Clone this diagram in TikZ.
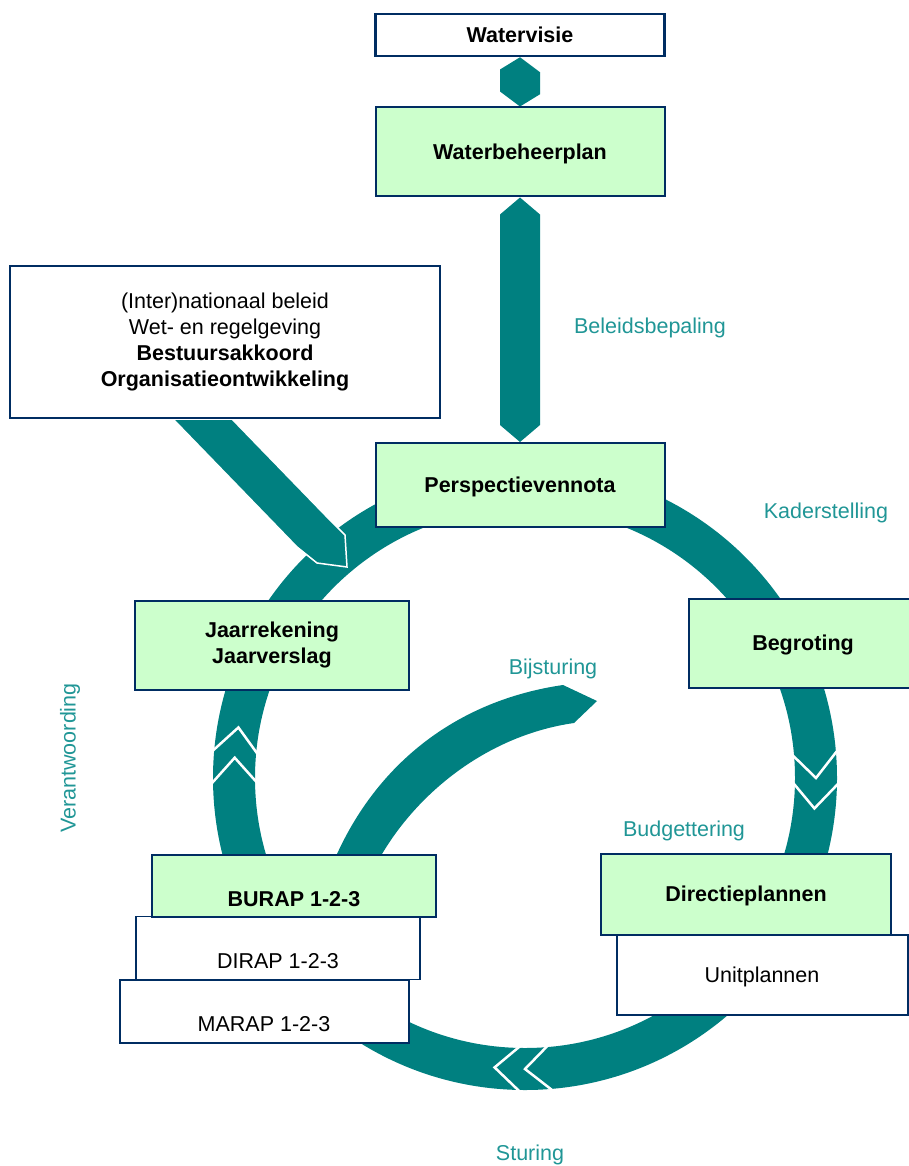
\documentclass[tikz,border=0pt]{standalone}
\usepackage{fontspec}
\setmainfont{Liberation Sans}
\usetikzlibrary{calc,backgrounds}
\definecolor{bandteal}{RGB}{0,128,128}
\definecolor{labelteal}{RGB}{32,150,150}
\definecolor{boxnavy}{RGB}{0,45,98}
\definecolor{boxgreen}{RGB}{204,255,204}
\begin{document}
\begin{tikzpicture}[x=1pt,y=-1pt]
	\tikzset{box/.style=
        {draw=boxnavy, line width=2pt, fill=white, align=center, inner sep=0pt, text depth=0pt, font=\fontsize{21.5}{26}\selectfont},
      greenbox/.style={box, fill=boxgreen, font=\fontsize{21.5}{26}\selectfont\bfseries},
      lowtext/.style={text height=45pt, text depth=4pt},
      steplabel/.style={text=labelteal, inner sep=0pt, font=\fontsize{21.5}{26}\selectfont},
      band/.style={fill=bandteal},
      cut/.style={draw=white, line width=2.5pt}
     }
	\useasboundingbox (0,0) rectangle (908,1166);
	% boxes
	\node (wvisie) at (520,35) [box, line width=2.5pt, minimum width=289pt, minimum height=42pt, font=\fontsize{21.5}{26}\selectfont\bfseries] {Watervisie};
	\node (wbplan) at (520,152) [greenbox, minimum width=289pt, minimum height=89pt] {Waterbeheerplan};
	\node (pnota) at (520,485) [greenbox, minimum width=289pt, minimum height=84pt] {Perspectievennota};
	\node (beleid) at (225,342) [box, text depth=4pt, minimum width=430pt, minimum height=152pt] {(Inter)nationaal beleid\\Wet- en regelgeving\\\textbf{Bestuursakkoord}\\\textbf{Organisatieontwikkeling}};
	\node (jaar) at (272,645) [greenbox, text depth=4pt, minimum width=274pt, minimum height=89pt] {Jaarrekening\\Jaarverslag};
	\node (begroting) at (803,643) [greenbox, minimum width=228pt, minimum height=89pt] {Begroting};
	\node (dirap) at (278,948) [box, lowtext, line width=1.5pt, minimum width=284pt, minimum height=63pt] {DIRAP 1-2-3};
	\node (burap) at (294,886) [greenbox, lowtext, minimum width=284pt, minimum height=62pt] {BURAP 1-2-3};
	\node (marap) at (264,1011) [box, lowtext, minimum width=289pt, minimum height=63pt] {MARAP 1-2-3};
	\node (dplan) at (746,894) [greenbox, minimum width=290pt, minimum height=81pt] {Directieplannen};
	\node (uplan) at (762,975) [box, minimum width=291pt, minimum height=80pt] {Unitplannen};
	% labels
	\node (lbeleid) at (650,328) [steplabel] {Beleidsbepaling};
	\node (lkader) at (826,513) [steplabel] {Kaderstelling};
	\node (lbijst) at (553,669) [steplabel] {Bijsturing};
	\node (lbudget) at (684,831) [steplabel] {Budgettering};
	\node (lsturing) at (530,1155) [steplabel] {Sturing};
	\node (lverant) at (70,758) [steplabel, rotate=90] {Verantwoording};
	\begin{scope}[on background layer]
		% cycle ring with chevrons
		\coordinate (ringc) at (525,778);
		\draw[bandteal, line width=42pt] (ringc) circle[radius=291];
		\foreach \a in {0,6,90,96,184,190}
			\draw[cut] ($(ringc)+(\a-5.5:316)$) -- ($(ringc)+(\a:291)$) -- ($(ringc)+(\a-5.5:266)$);
		% bands between boxes
		\fill[band] (wvisie.south) -- ++(20,15) -- ++(0,22) -- (wbplan.north) -- ++(-20,-15) -- ++(0,-22) -- cycle;
		\fill[band] (wbplan.south) -- ++(20,17) -- ([shift={(20,-17)}]pnota.north) -- (pnota.north) -- ++(-20,-17) -- ([shift={(-20,17)}]wbplan.south) -- cycle;
		\fill[band, draw=white, line width=1.5pt] ([xshift=-52]beleid.south) -- (297,547) -- (317,563) -- (347,567) -- (345,535) -- (327,517) -- ([xshift=7]beleid.south) -- cycle;
		% bijsturing arrow
		\fill[band] ([xshift=43]burap.north) .. controls (380,760) and (460,700) .. (563,685) -- (597,701) -- (574,723) .. controls (490,735) and (420,790) .. ([xshift=88]burap.north) -- cycle;
	\end{scope}
\end{tikzpicture}
\end{document}
